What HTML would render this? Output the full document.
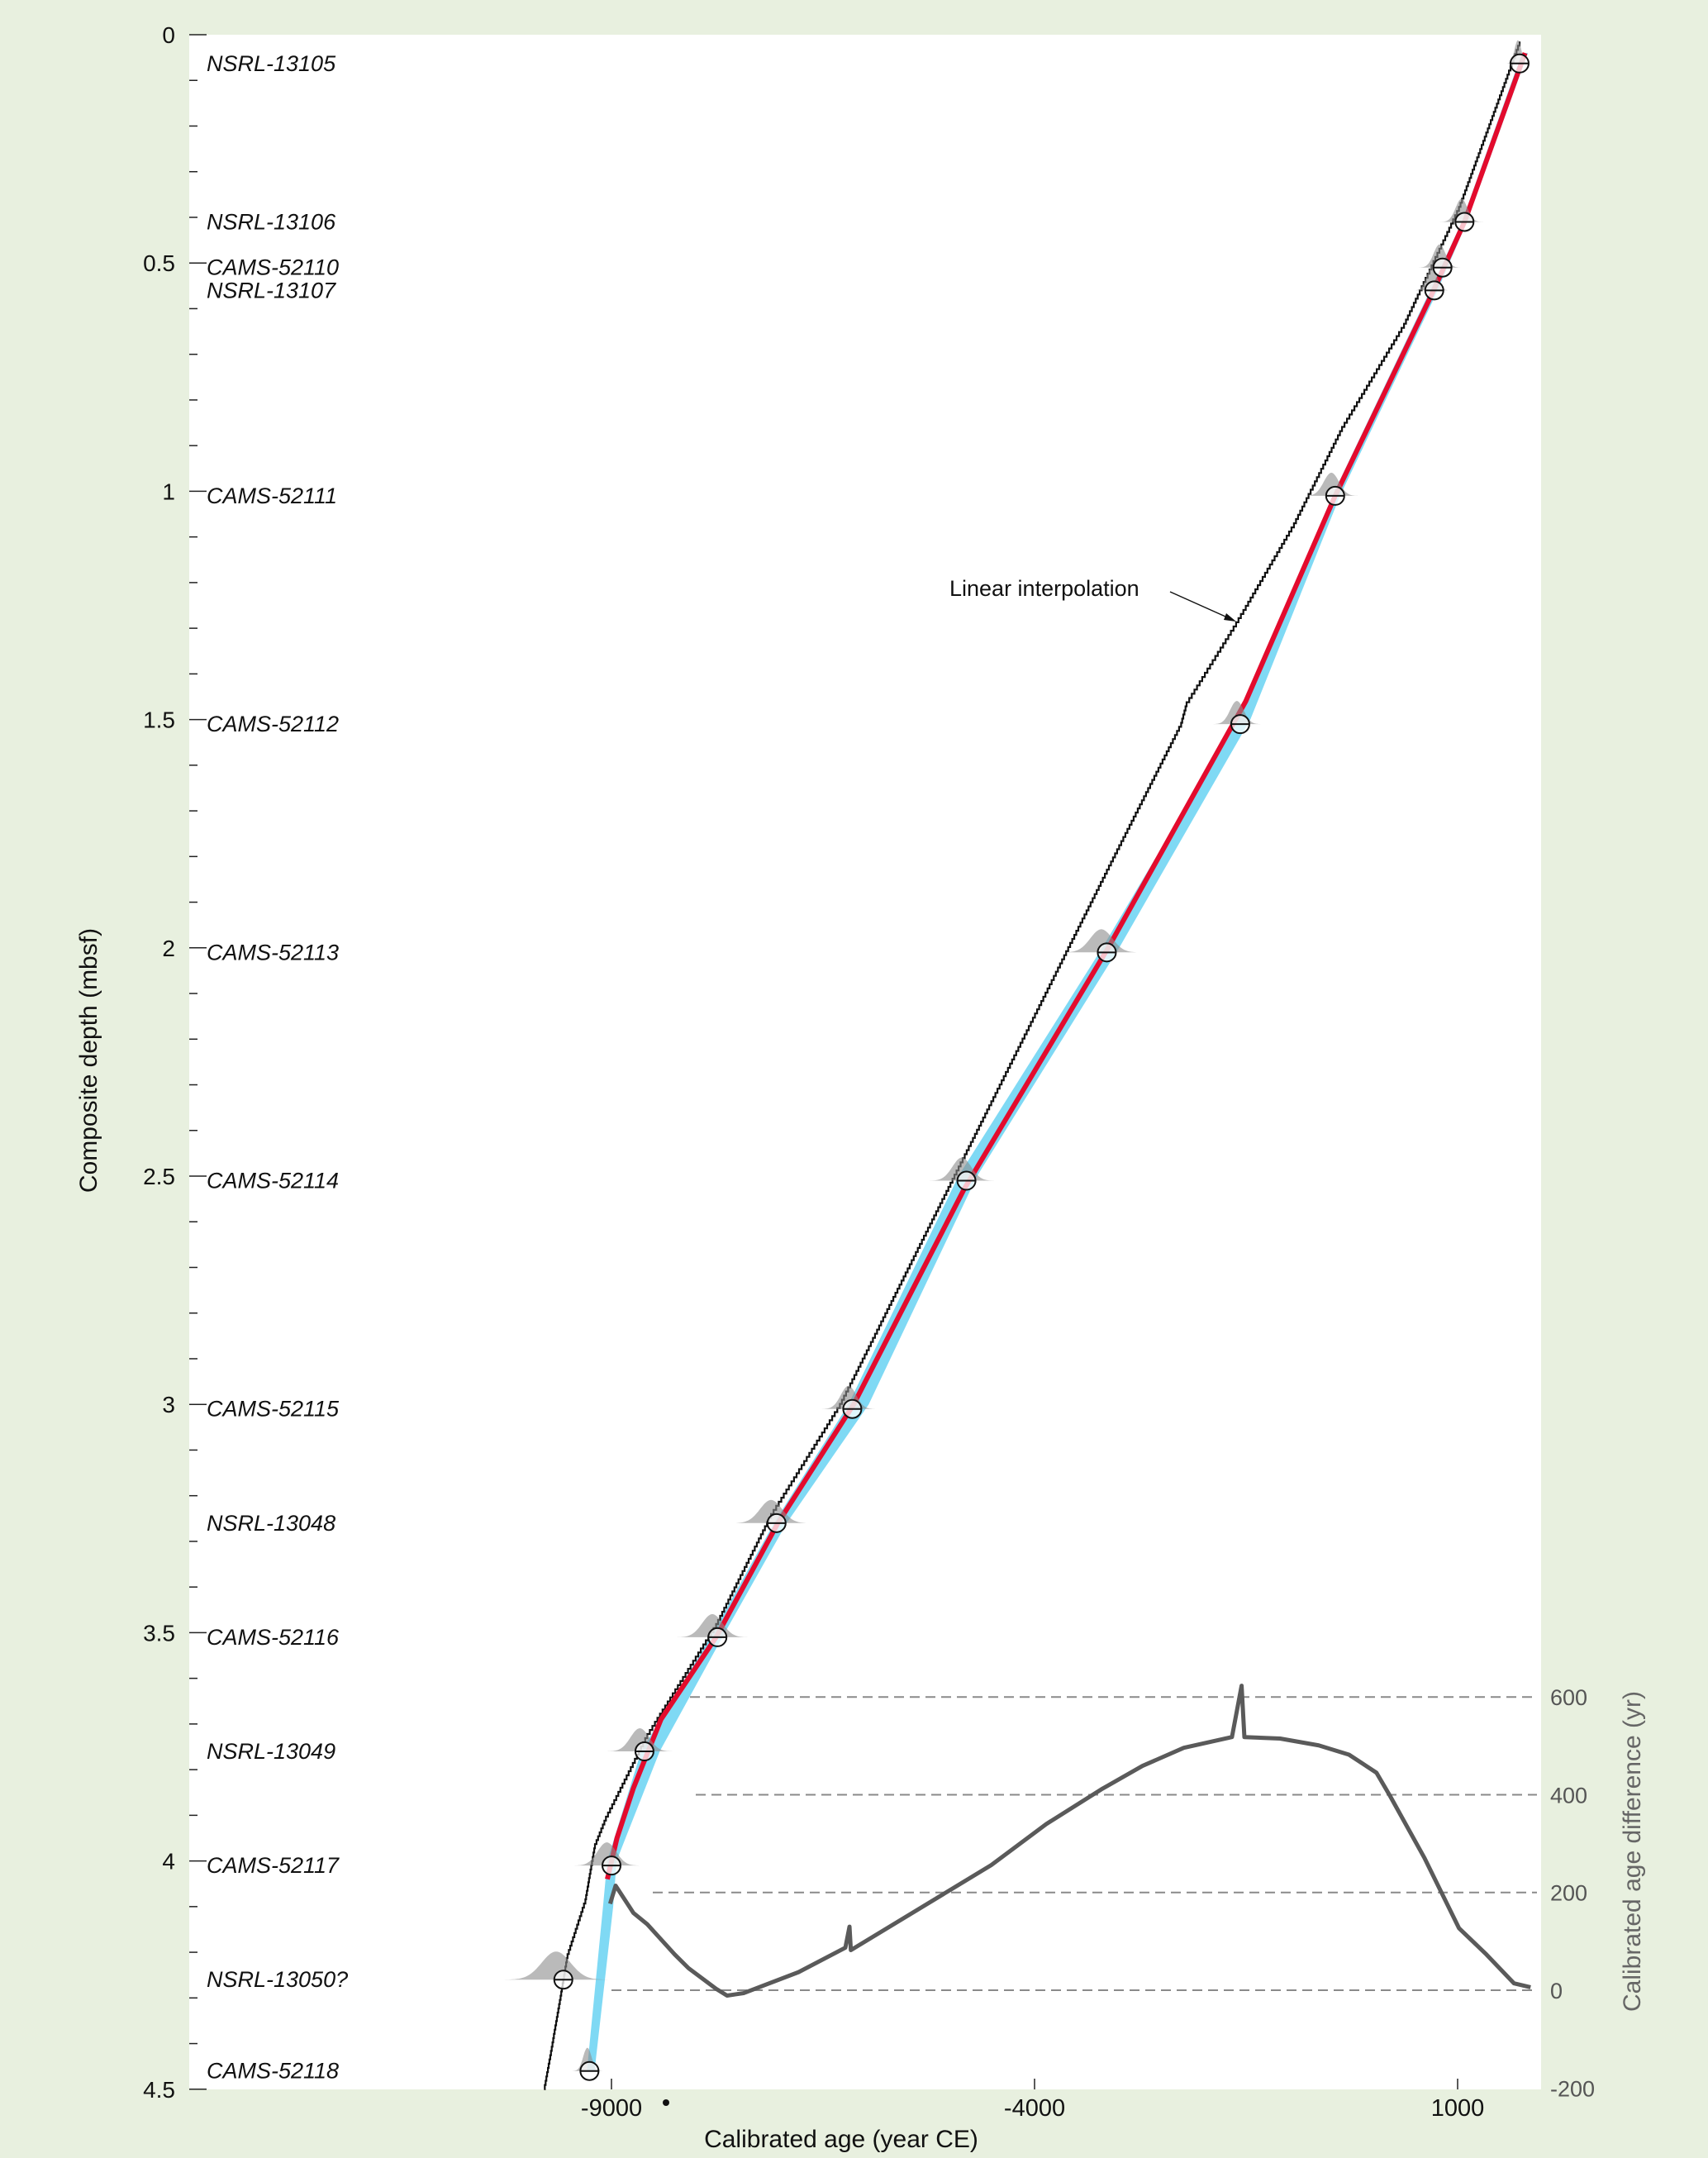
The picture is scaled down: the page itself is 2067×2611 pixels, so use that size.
<!DOCTYPE html>
<html><head><meta charset="utf-8"><style>
html,body{margin:0;padding:0;background:#e8f0df;}
svg{display:block;font-family:"Liberation Sans",sans-serif;}
</style></head><body>
<svg id="chart" width="2067" height="2611" viewBox="0 0 2067 2611" xmlns="http://www.w3.org/2000/svg">
<rect x="0" y="0" width="2067" height="2611" fill="#e8f0df"/>
<rect x="229" y="42" width="1636" height="2486" fill="#ffffff"/>
<g id="grid"></g><g id="band"></g><g id="interp"></g><g id="model"></g><g id="diff"></g><g id="dists"></g><g id="points"></g><g id="axes"></g>
</svg>
<script>
const dateLabels=["NSRL-13105","NSRL-13106","CAMS-52110","NSRL-13107","CAMS-52111","CAMS-52112","CAMS-52113","CAMS-52114","CAMS-52115","NSRL-13048","CAMS-52116","NSRL-13049","CAMS-52117","NSRL-13050?","CAMS-52118"];
const dateAges=[1732,1081,821,724,-447,-1569,-3146,-4805,-6154,-7049,-7748,-8610,-9000,-9569,-9260];
const dateDepths=[0.063,0.41,0.51,0.56,1.01,1.51,2.01,2.51,3.01,3.26,3.51,3.76,4.01,4.26,4.46];
const distSpread=[40,70,70,60,90,80,130,110,90,130,120,110,110,170,50];
const modelAges=[1797,1081,691,-447,-1504,-3130,-4837,-6138,-7033,-7764,-8415,-8740,-8935,-9049];
const modelDepths=[0.04,0.41,0.57,1.01,1.46,2.0,2.53,3.0,3.26,3.51,3.69,3.84,3.95,4.04];
const bandDepths=[0.04,0.41,0.57,1.01,1.5,2.0,2.5,3.0,3.26,3.5,3.76,4.0,4.1,4.46];
const bandMin=[1760,1050,650,-480,-1600,-3200,-4900,-6200,-7080,-7800,-8650,-9050,-9100,-9290];
const bandMax=[1830,1110,740,-390,-1450,-3000,-4680,-5960,-6930,-7660,-8430,-8940,-8980,-9200];
const interpAges=[1732,1016,366,-366,-935,-1618,-2203,-2268,-3049,-3699,-4512,-5163,-5813,-6301,-7114,-7764,-8577,-9065,-9195,-9309,-9520,-9602,-9715,-9797];
const interpDepths=[0.015,0.377,0.633,0.859,1.07,1.287,1.462,1.507,1.793,2.034,2.336,2.577,2.818,2.999,3.24,3.481,3.722,3.903,3.963,4.084,4.204,4.295,4.416,4.5];
const diffAges=[-9016,-8951,-8740,-8577,-8252,-8089,-7764,-7634,-7439,-6789,-6236,-6187,-6171,-4512,-3862,-3211,-2724,-2236,-1667,-1553,-1520,-1098,-642,-284,41,203,610,1016,1341,1667,1862];
const diffVals=[177,214,158,135,73,45,3,-11,-6,37,87,130,82,256,340,411,459,496,518,623,518,515,501,482,445,397,270,127,73,14,6];
const depthTicks=[0,0.5,1,1.5,2,2.5,3,3.5,4,4.5];
const depthTickLabels=["0","0.5","1","1.5","2","2.5","3","3.5","4","4.5"];
const ageTicks=[-9000,-4000,1000];
const ageTickLabels=["-9000","-4000","1000"];
const diffTicks=[600,400,200,0,-200];
const diffTickLabels=["600","400","200","0","-200"];

const NS="http://www.w3.org/2000/svg";
const X=a=>740+(a+9000)*0.1024;
const Y=d=>42+d*552.4;
const YD=v=>2408-v*0.5913;
function mk(tag,attrs,parent,text){const e=document.createElementNS(NS,tag);for(const k in attrs)e.setAttribute(k,attrs[k]);if(text!==undefined)e.textContent=text;document.getElementById(parent).appendChild(e);return e;}

const gridStart=[835,842,790,740];
diffTicks.forEach((v,i)=>{if(v<0)return;
 const e=mk('line',{x1:gridStart[i],x2:1860,y1:YD(v),y2:YD(v),stroke:'#8a8a8a','stroke-width':2,'stroke-dasharray':'12 7'},'grid');
 
 });

let bp=bandDepths.map((d,i)=>X(bandMin[i])+','+Y(d));
for(let i=bandDepths.length-1;i>=0;i--)bp.push(X(bandMax[i])+','+Y(bandDepths[i]));
const band=mk('polygon',{points:bp.join(' '),fill:'#7fd9f4'},'band');



let ip=[];
for(let i=0;i<interpAges.length-1;i++){
 const x0=X(interpAges[i]),y0=Y(interpDepths[i]),x1=X(interpAges[i+1]),y1=Y(interpDepths[i+1]);
 const n=Math.max(1,Math.round((y1-y0)/5));
 for(let k=0;k<n;k++){const ya=y0+(y1-y0)*k/n,yb=y0+(y1-y0)*(k+1)/n,xa=x0+(x1-x0)*k/n,xb=x0+(x1-x0)*(k+1)/n;
  ip.push(xa.toFixed(1)+','+ya.toFixed(1));ip.push(xa.toFixed(1)+','+yb.toFixed(1));ip.push(xb.toFixed(1)+','+yb.toFixed(1));}
}
const il=mk('polyline',{points:ip.join(' '),fill:'none',stroke:'#111','stroke-width':2.2},'interp');


const ann=mk('text',{x:1149,y:721,'font-size':27,fill:'#111'},'interp','Linear interpolation');


const arr=mk('line',{x1:1416,y1:716,x2:1492,y2:750,stroke:'#111','stroke-width':1.5},'interp');


const ah=mk('polygon',{points:'1496,752 1484,742 1481,750',fill:'#111'},'interp');



const ml=mk('polyline',{points:modelAges.map((a,i)=>X(a)+','+Y(modelDepths[i])).join(' '),fill:'none',stroke:'#e30b2d','stroke-width':6,'stroke-linejoin':'round'},'model');



const dl=mk('polyline',{points:diffAges.map((a,i)=>X(a)+','+YD(diffVals[i])).join(' '),fill:'none',stroke:'#5a5a5a','stroke-width':5,'stroke-linejoin':'round'},'diff');



dateAges.forEach((a,i)=>{
 const cx=X(a)-distSpread[i]*0.1024*0.5,by=Y(dateDepths[i]),s=distSpread[i]*0.1024,h=i==13?34:28;
 let pts=[];for(let k=-40;k<=40;k++){const t=k/10;pts.push((cx+t*s).toFixed(1)+','+(by-h*Math.exp(-t*t/2)).toFixed(1));}
 const p=mk('polygon',{points:pts.join(' '),fill:'#8c8c8c','fill-opacity':0.6},'dists');
 
 
 const g=mk('g',{},'points');
 
 
 const x=X(a);
 const e=document.createElementNS(NS,'line');e.setAttribute('x1',x-11);e.setAttribute('x2',x+11);e.setAttribute('y1',by);e.setAttribute('y2',by);e.setAttribute('stroke','#111');e.setAttribute('stroke-width',2);
 const c=document.createElementNS(NS,'circle');c.setAttribute('cx',x);c.setAttribute('cy',by);c.setAttribute('r',11);c.setAttribute('fill','#fff');c.setAttribute('fill-opacity',0.75);c.setAttribute('stroke','#111');c.setAttribute('stroke-width',2);
 g.appendChild(c);g.appendChild(e);
 const t=mk('text',{x:250,y:by+9,'font-size':27,'font-style':'italic',fill:'#111'},'axes',dateLabels[i]);
 
 
});

for(let k=0;k<=45;k++){const d=k/10,maj=k%5==0;
 const l=mk('line',{x1:229,x2:maj?250:239,y1:Y(d),y2:Y(d),stroke:'#222','stroke-width':1.5},'axes');
 
 }
depthTicks.forEach((d,i)=>{const t=mk('text',{x:212,y:Y(d)+10,'font-size':28,'text-anchor':'end',fill:'#111'},'axes',depthTickLabels[i]);
 
 });
const yt=mk('text',{x:117,y:1283,'font-size':30,'text-anchor':'middle',fill:'#111',transform:'rotate(-90 117 1283)'},'axes','Composite depth (mbsf)');


ageTicks.forEach((a,i)=>{
 const l=mk('line',{x1:X(a),x2:X(a),y1:2515,y2:2528,stroke:'#222','stroke-width':1.5},'axes');
 
 
 const t=mk('text',{x:X(a),y:2560,'font-size':29,'text-anchor':'middle',fill:'#111'},'axes',ageTickLabels[i]);
 
 });
const dot=mk('circle',{cx:806,cy:2544,r:4,fill:'#111'},'axes');


const xt=mk('text',{x:1018,y:2598,'font-size':30,'text-anchor':'middle',fill:'#111'},'axes','Calibrated age (year CE)');


diffTicks.forEach((v,i)=>{const t=mk('text',{x:1876,y:YD(v)+10,'font-size':27,fill:'#555'},'axes',diffTickLabels[i]);
 
 });
const rt=mk('text',{x:1985,y:2240,'font-size':30,'text-anchor':'middle',fill:'#666',transform:'rotate(-90 1985 2240)'},'axes','Calibrated age difference (yr)');


</script>
</body></html>
